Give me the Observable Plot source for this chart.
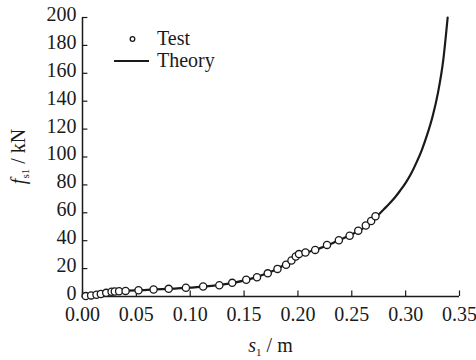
<!DOCTYPE html>
<html>
<head>
<meta charset="utf-8">
<script src="https://cdn.jsdelivr.net/npm/d3@7"></script>
<script src="https://cdn.jsdelivr.net/npm/@observablehq/plot@0.6"></script>
<style>
  html, body { margin: 0; padding: 0; background: #fff; }
  #chart svg, #chart svg text { font-family: "Liberation Serif", "Times New Roman", serif !important; }
</style>
</head>
<body>
<div id="chart"></div>
<script>
// Test data (s1 in m, fs1 in kN)
const testS = [0.003, 0.008, 0.013, 0.017, 0.022, 0.027, 0.030, 0.034, 0.040, 0.052, 0.066, 0.080, 0.096, 0.112, 0.127, 0.139, 0.152, 0.162, 0.172, 0.181, 0.189, 0.194, 0.198, 0.201, 0.207, 0.216, 0.227, 0.238, 0.248, 0.256, 0.263, 0.268, 0.272];
const testF = [0.3, 0.8, 1.3, 1.8, 2.6, 3.4, 3.6, 3.8, 4.0, 4.5, 5.0, 5.5, 6.3, 7.2, 8.1, 9.8, 12.0, 13.8, 16.6, 19.8, 22.8, 25.8, 28.7, 30.4, 31.5, 33.4, 37.0, 40.3, 43.5, 47.2, 50.9, 54.1, 57.5];

// Theory curve
const theoryS = [0, 0.01, 0.02, 0.03, 0.04, 0.06, 0.08, 0.10, 0.12, 0.14, 0.16, 0.17, 0.18, 0.19, 0.20, 0.21, 0.22, 0.23, 0.24, 0.25, 0.26, 0.27, 0.275, 0.28, 0.285, 0.29, 0.295, 0.30, 0.305, 0.31, 0.315, 0.32, 0.325, 0.33, 0.335, 0.339];
const theoryF = [0, 1, 2.5, 3.6, 4.1, 4.8, 5.5, 6.4, 7.6, 9.8, 13.5, 16.3, 19.5, 24.0, 29.6, 32.0, 34.5, 37.5, 41.0, 44.6, 48.6, 54.8, 58.8, 62.7, 66.7, 71.0, 76.0, 81.5, 88.0, 96.0, 105.0, 116.0, 129.0, 146.0, 170.0, 200.0];

const xTicks = [0, 0.05, 0.10, 0.15, 0.20, 0.25, 0.30, 0.35];
const yTicks = [0, 20, 40, 60, 80, 100, 120, 140, 160, 180, 200];

const test = testS.map((s, i) => ({s, f: testF[i]}));
const theory = theoryS.map((s, i) => ({s, f: theoryF[i]}));

const ink = "#1a1a1a";
const FS = 20;
const plot = Plot.plot({
  width: 476,
  height: 360,
  marginLeft: 82,
  marginRight: 17,
  marginTop: 17,
  marginBottom: 64,
  style: {fontFamily: "Liberation Serif, serif", fontSize: FS + "px", color: ink, background: "#fff"},
  x: {domain: [0, 0.35], label: null},
  y: {domain: [0, 200], label: null},
  marks: [
    Plot.axisX(xTicks, {tickSize: 0, tickPadding: 10, tickFormat: d => d.toFixed(2), fontSize: FS, fill: ink}),
    Plot.axisY(yTicks, {tickSize: 0, tickPadding: 6, dy: -3, tickFormat: d => String(d), fontSize: FS, fill: ink}),
    Plot.ruleX(xTicks, {x: d => d, y1: 0, y2: 4, stroke: ink, strokeWidth: 1.2}),
    Plot.ruleY(yTicks, {y: d => d, x1: 0, x2: 0.005, stroke: ink, strokeWidth: 1.2}),
    Plot.ruleX([0], {y1: 0, y2: 200, stroke: ink, strokeWidth: 1.5}),
    Plot.ruleY([0], {x1: 0, x2: 0.35, stroke: ink, strokeWidth: 1.5}),
    Plot.line(theory, {x: "s", y: "f", stroke: ink, strokeWidth: 2.2, curve: "monotone-x"}),
    Plot.dot(test, {x: "s", y: "f", r: 3.6, fill: "white", stroke: ink, strokeWidth: 1.3})
  ]
});
document.getElementById("chart").appendChild(plot);

const svg = d3.select(plot);
const xs = plot.scale("x"), ys = plot.scale("y");
const cx = (xs.apply(0) + xs.apply(0.35)) / 2;

// x axis label: s1 / m
const xl = svg.append("text")
  .attr("x", cx).attr("y", 352)
  .attr("text-anchor", "middle")
  .attr("font-size", FS).attr("fill", ink);
xl.append("tspan").attr("font-style", "italic").text("s");
xl.append("tspan").attr("font-size", 11).attr("dy", 4).text("1");
xl.append("tspan").attr("dy", -4).text(" / m");

// y axis label: fs1 / kN
const cy = (ys.apply(0) + ys.apply(200)) / 2;
const yl = svg.append("text")
  .attr("transform", `translate(25,${cy}) rotate(-90)`)
  .attr("text-anchor", "middle")
  .attr("font-size", FS).attr("fill", ink);
yl.append("tspan").attr("font-style", "italic").text("f");
yl.append("tspan").attr("font-size", 11).attr("dy", 4).text("s1");
yl.append("tspan").attr("dy", -4).text(" / kN");

// legend
const lg = svg.append("g").attr("text-anchor", "start");
lg.append("circle").attr("cx", 132.5).attr("cy", 39).attr("r", 2.3)
  .attr("fill", "white").attr("stroke", ink).attr("stroke-width", 1.3);
lg.append("text").attr("x", 157).attr("y", 45).attr("text-anchor", "start")
  .attr("font-size", FS).attr("fill", ink).text("Test");
lg.append("line").attr("x1", 114).attr("x2", 149).attr("y1", 61).attr("y2", 61)
  .attr("stroke", ink).attr("stroke-width", 2.2);
lg.append("text").attr("x", 157).attr("y", 67).attr("text-anchor", "start")
  .attr("font-size", FS).attr("fill", ink).text("Theory");
</script>
</body>
</html>
